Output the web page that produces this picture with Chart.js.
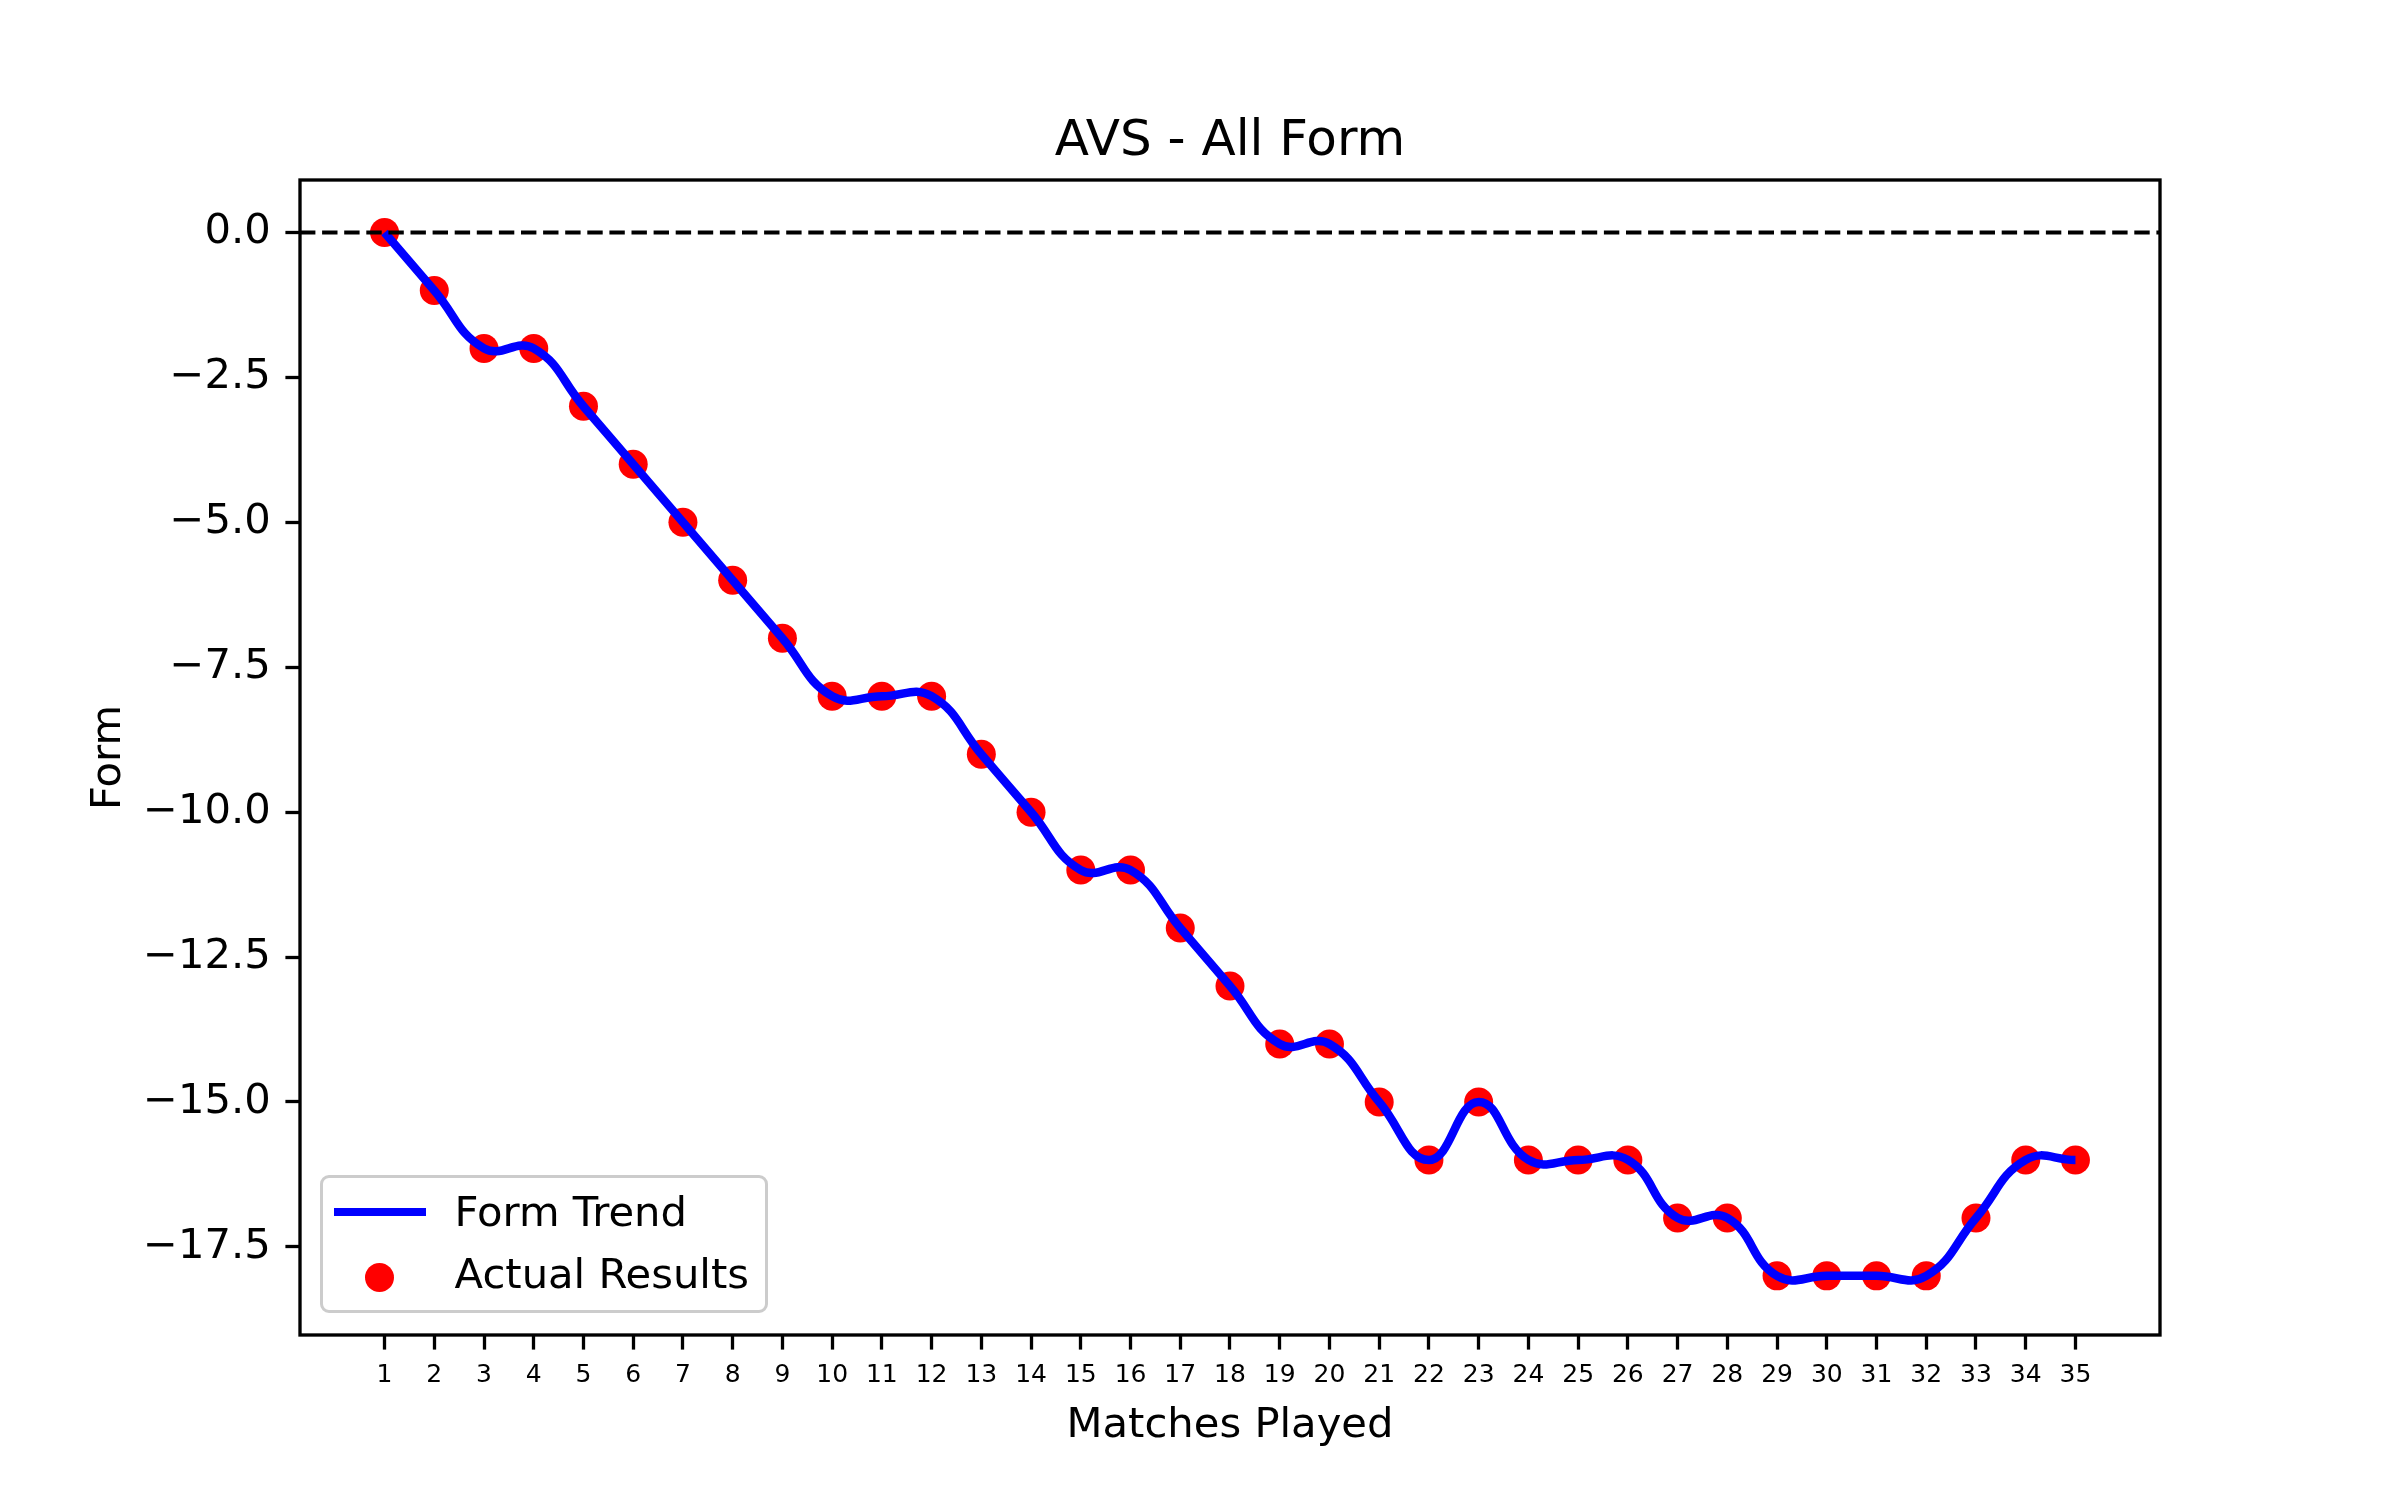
<!DOCTYPE html>
<html>
<head>
<meta charset="utf-8">
<title>AVS - All Form</title>
<script src="https://cdn.jsdelivr.net/npm/chart.js@4.4.1/dist/chart.umd.min.js"></script>
<style>
    html, body { margin: 0; padding: 0; background: #fff; }
    #wrap { position: relative; width: 2400px; height: 1500px; }
    #legend {
        position: absolute; left: 320px; top: 1175px;
        border: 3.3px solid #cccccc; border-radius: 9px;
        background: rgba(255, 255, 255, 0.8);
        padding: 2.6px 16px 5.2px 10.6px;
        font-family: "DejaVu Sans", sans-serif; font-size: 41.7px; color: #000;
    }
    #legend .item { display: flex; align-items: center; height: 62.3px; line-height: 62.3px; white-space: nowrap; }
    #legend .swatch { position: relative; width: 92px; height: 62.3px; margin-right: 29px; }
    #legend .mark-line { position: absolute; left: 0; top: 27px; width: 92px; height: 8.3px; }
    #legend .mark-dot { position: absolute; left: 31.5px; top: 20px; width: 29px; height: 29px; border-radius: 50%; }
</style>
</head>
<body>
<div id="wrap">
    <canvas id="formChart" width="2400" height="1500"></canvas>
    <div id="legend"></div>
</div>
<script>
// match numbers and cumulative form
const matches = [1, 2, 3, 4, 5, 6, 7, 8, 9, 10, 11, 12, 13, 14, 15, 16, 17, 18,
    19, 20, 21, 22, 23, 24, 25, 26, 27, 28, 29, 30, 31, 32, 33, 34, 35];
const form = [0, -1, -2, -2, -3, -4, -5, -6, -7, -8, -8, -8, -9, -10, -11, -11, -12, -13,
    -14, -14, -15, -16, -15, -16, -16, -16, -17, -17, -18, -18, -18, -18, -17, -16, -16];
const yTicks = [0, -2.5, -5, -7.5, -10, -12.5, -15, -17.5];

const points = matches.map((m, i) => ({ x: m, y: form[i] }));

Chart.defaults.font.family = "'DejaVu Sans', sans-serif";
Chart.defaults.color = "#000";

function fmt(v) {
    const s = Math.abs(v).toFixed(1);
    return v < 0 ? "\u2212" + s : s;
}

// zero reference line + box around the axes
const axesFrame = {
    id: "axesFrame",
    afterDatasetsDraw(chart) {
        const { ctx, chartArea: a, scales: { y } } = chart;
        const y0 = y.getPixelForValue(0);
        ctx.save();
        ctx.strokeStyle = "#000";
        ctx.lineWidth = 4.17;
        ctx.setLineDash([15.4, 6.7]);
        ctx.beginPath();
        ctx.moveTo(a.left, y0);
        ctx.lineTo(a.right, y0);
        ctx.stroke();
        ctx.setLineDash([]);
        ctx.lineWidth = 3.33;
        ctx.strokeRect(a.left, a.top, a.right - a.left, a.bottom - a.top);
        ctx.restore();
    }
};

// legend built from the datasets
const htmlLegend = {
    id: "htmlLegend",
    afterUpdate(chart) {
        const box = document.getElementById("legend");
        box.innerHTML = "";
        chart.data.datasets.forEach(ds => {
            const item = document.createElement("div");
            item.className = "item";
            const sw = document.createElement("span");
            sw.className = "swatch";
            const mark = document.createElement("span");
            mark.className = ds.showLine ? "mark-line" : "mark-dot";
            mark.style.background = ds.showLine ? ds.borderColor : ds.backgroundColor;
            sw.appendChild(mark);
            const txt = document.createElement("span");
            txt.textContent = ds.label;
            item.append(sw, txt);
            box.appendChild(item);
        });
    }
};

const tickGrid = {
    display: true,
    drawOnChartArea: false,
    drawTicks: true,
    tickLength: 14.6,
    tickWidth: 3.3,
    tickColor: "#000"
};

new Chart(document.getElementById("formChart"), {
    type: "scatter",
    data: {
        datasets: [{
            label: "Form Trend",
            data: points,
            showLine: true,
            borderColor: "#0000ff",
            borderWidth: 8.5,
            pointRadius: 0,
            tension: 0.45,
            fill: false,
            order: 0
        }, {
            label: "Actual Results",
            data: points,
            showLine: false,
            backgroundColor: "#ff0000",
            borderWidth: 0,
            pointRadius: 14.5,
            order: 1
        }]
    },
    options: {
        responsive: false,
        devicePixelRatio: 1,
        animation: false,
        events: [],
        layout: { padding: { left: 0, right: 240, top: 0, bottom: 0 } },
        scales: {
            x: {
                type: "linear",
                position: "bottom",
                min: -0.7,
                max: 36.7,
                afterBuildTicks: s => { s.ticks = matches.map(v => ({ value: v })); },
                afterFit: s => { s.height = 165; },
                grid: tickGrid,
                border: { display: false },
                ticks: { font: { size: 25 }, padding: 11, maxRotation: 0, autoSkip: false },
                title: {
                    display: true,
                    text: "Matches Played",
                    font: { size: 41.7 },
                    padding: { top: 0, bottom: 49 }
                }
            },
            y: {
                type: "linear",
                position: "left",
                min: -19.02,
                max: 0.905,
                afterBuildTicks: s => { s.ticks = yTicks.map(v => ({ value: v })); },
                afterFit: s => { s.width = 300; },
                grid: tickGrid,
                border: { display: false },
                ticks: { font: { size: 41.7 }, padding: 14.6, callback: v => fmt(v) },
                title: {
                    display: true,
                    text: "Form",
                    font: { size: 41.7 },
                    padding: { top: 84.6, bottom: 0 }
                }
            }
        },
        plugins: {
            legend: { display: false },
            tooltip: { enabled: false },
            title: {
                display: true,
                text: "AVS - All Form",
                fullSize: false,
                font: { size: 50, weight: "normal" },
                color: "#000",
                padding: { top: 112, bottom: 8 }
            }
        }
    },
    plugins: [axesFrame, htmlLegend]
});
</script>
</body>
</html>
